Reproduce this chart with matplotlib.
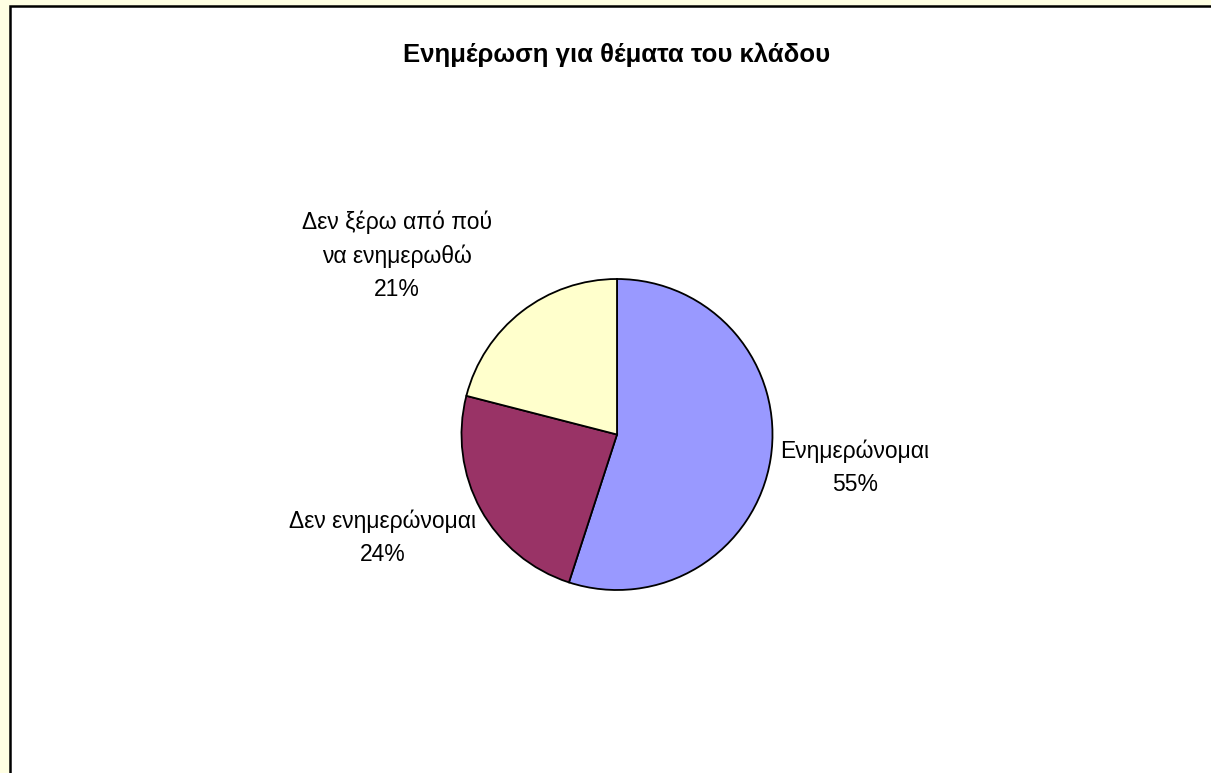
import numpy as np
import matplotlib
matplotlib.use("Agg")
import matplotlib.pyplot as plt
from matplotlib.patches import Rectangle

plt.rcParams['font.family'] = ['Liberation Sans', 'DejaVu Sans']

# ─── Data ────────────────────────────────────────────────────────────────────
categories = ["Ενημερώνομαι", "Δεν ενημερώνομαι", "Δεν ξέρω από πού\nνα ενημερωθώ"]
shares = [55, 24, 21]
colors = ["#9999FF", "#993366", "#FFFFCC"]
title = "Ενημέρωση για θέματα του κλάδου"

W, H = 1211, 773
fig = plt.figure(figsize=(W / 100, H / 100), dpi=100)
fig.patch.set_facecolor("#FFFFE3")

# chart area frame (runs past the right/bottom edge)
frame = Rectangle((10 / W, -0.05), 1.2, (H - 6) / H + 0.05, transform=fig.transFigure,
                  facecolor="white", edgecolor="black", linewidth=1.8, zorder=-5)
fig.patches.append(frame)

R = 155.5
cx, cy = 617, H - 434.5
ax = fig.add_axes([(cx - 2 * R) / W, (cy - 2 * R) / H, 4 * R / W, 4 * R / H])

wedges, _ = ax.pie(shares, colors=colors, startangle=90, counterclock=False,
                   radius=1.0, wedgeprops={"edgecolor": "black", "linewidth": 1.3})
# pie() resets the limits, so set them afterwards
ax.set_xlim(-2, 2)
ax.set_ylim(-2, 2)
ax.set_aspect("equal")
ax.axis("off")

# label offsets (in radius units) for Excel-style outside labels
label_pos = [(1.53, -0.215), (-1.505, -0.666), (-1.415, 1.148)]
for name, val, (lx, ly) in zip(categories, shares, label_pos):
    ax.text(lx, ly, f"{name}\n{val}%", ha="center", va="center",
            fontsize=16.5, linespacing=1.55)

fig.text(cx / W, 1 - 55 / H, title, ha="center", va="center",
         fontsize=18.5, fontweight="bold")

fig.savefig("out.png", dpi=100, facecolor=fig.get_facecolor())
